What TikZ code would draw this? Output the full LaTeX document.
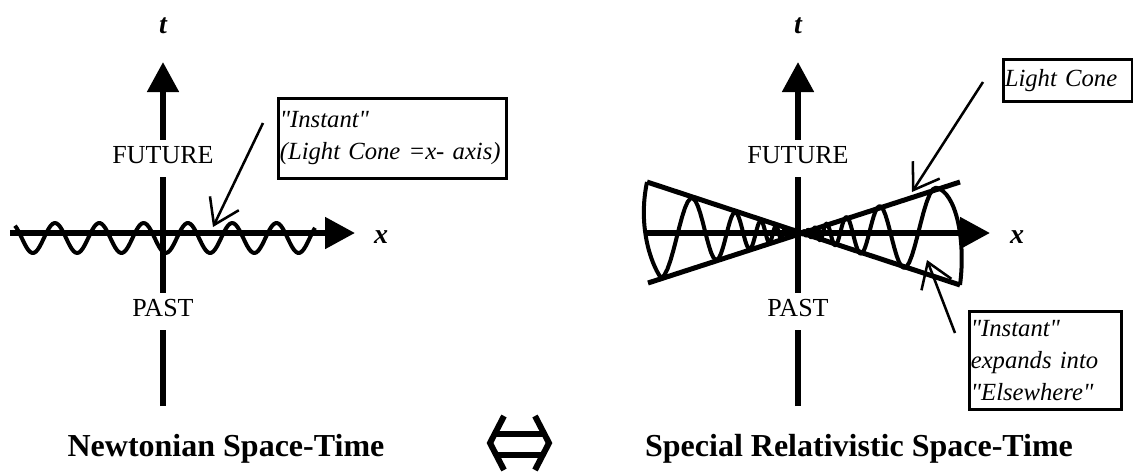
\documentclass[tikz,border=0pt]{standalone}
\usepackage{fontspec}
\setmainfont{Liberation Serif}[Ligatures=TeXOff]
\usepackage{tikz}
\usetikzlibrary{arrows.meta}
\tikzset{
    axis/.style={line width=4.5pt, -{Triangle[length=22.5pt, width=23pt]}},
    timelbl/.style={
        fill=white,
        font={\fontsize{19.5pt}{23pt}\selectfont},
        inner xsep=3pt, inner ysep=4.5pt,
        text depth=6pt,
        anchor=base
    },
    axlbl/.style={font={\fontsize{21pt}{25pt}\selectfont\bfseries\itshape}, anchor=base},
    wave/.style={line width=3pt, line join=round},
    cone/.style={line width=3.75pt},
    pointer/.style={line width=1.9pt, -{Straight Barb[length=18pt, width=24pt]}},
    note/.style={
        rectangle,
        draw, line width=2.25pt,
        font={\fontsize{18.5pt}{24pt}\selectfont\itshape},
        align=left,
        inner xsep=1pt, inner ysep=0pt,
        anchor=north west
    },
    eqarr/.style={line width=4.5pt},
    title/.style={font={\fontsize{24pt}{28pt}\selectfont\bfseries}, anchor=base},
}
\begin{document}
\begin{tikzpicture}[x=0.75pt, y=-0.75pt]
\useasboundingbox (0,0) rectangle (1133,472);
% Newtonian
\draw[axis] (163,406) -- (163,62);
\draw[axis] (10,233) -- (355,233);
\draw[wave] plot[domain=15:315, samples=160] (\x, {238 - 15*cos(8.126*(\x-55))});
\node(futN) at (163,163)[timelbl]{FUTURE};
\node(pastN) at (163,316)[timelbl]{PAST};
\node(tN) at (163,33)[axlbl]{t};
\node(xN) at (381,243)[axlbl]{x};
\node(instN) at (277,97)[note, text width=169pt, minimum height=60pt]{"Instant"\\(Light Cone =x- axis)};
\coordinate(instNtail) at (263,123);
\coordinate(instNtip) at (213,227);
\draw[pointer] (instNtail) -- (instNtip);
% special relativity
\draw[axis] (798,406) -- (798,62);
\draw[axis] (645,233) -- (990,233);
\draw[cone] (647,182) -- (960,285);
\draw[cone] (648,283) -- (960,182);
\draw[wave] (647,182) .. controls (638,225) and (650,262) .. (661,278)
    -- plot[variable=\t, domain=-4.92:-1.1, samples=160] ({798-exp(-\t)}, {233+0.33*exp(-\t)*sin(-687.5*\t-3292.5)})
    -- plot[variable=\t, domain=1.1:4.93, samples=160] ({798+exp(\t)}, {233-0.33*exp(\t)*sin(687.5*\t-3292.5)})
    .. controls (956,192) and (966,240) .. (960,285);
\node(futS) at (798,163)[timelbl]{FUTURE};
\node(pastS) at (798,316)[timelbl]{PAST};
\node(tS) at (798,33)[axlbl]{t};
\node(xS) at (1017,243)[axlbl]{x};
\node(coneS) at (1002,58)[note, text width=95pt, minimum height=31.5pt]{Light Cone};
\node(elseS) at (968,310)[note, text width=112pt, minimum height=73.5pt]{"Instant"\\expands into\\"Elsewhere"};
\coordinate(coneStail) at (983,82);
\coordinate(coneStip) at (912,192);
\draw[pointer] (coneStail) -- (coneStip);
\coordinate(elseStail) at (955,333);
\coordinate(elseStip) at (927,260);
\draw[pointer] (elseStail) -- (elseStip);
% titles
\node(newt) at (226,456)[title]{Newtonian Space-Time};
\node(srel) at (859,456)[title]{Special Relativistic Space-Time};
\coordinate(eqL) at (490,443);
\coordinate(eqR) at (549,443);
\draw[eqarr] (504,416) -- (eqL) -- (504,470);
\draw[eqarr] (535,416) -- (eqR) -- (535,470);
\draw[eqarr] (496,434) -- (543,434) (496,455) -- (543,455);
\end{tikzpicture}
\end{document}
